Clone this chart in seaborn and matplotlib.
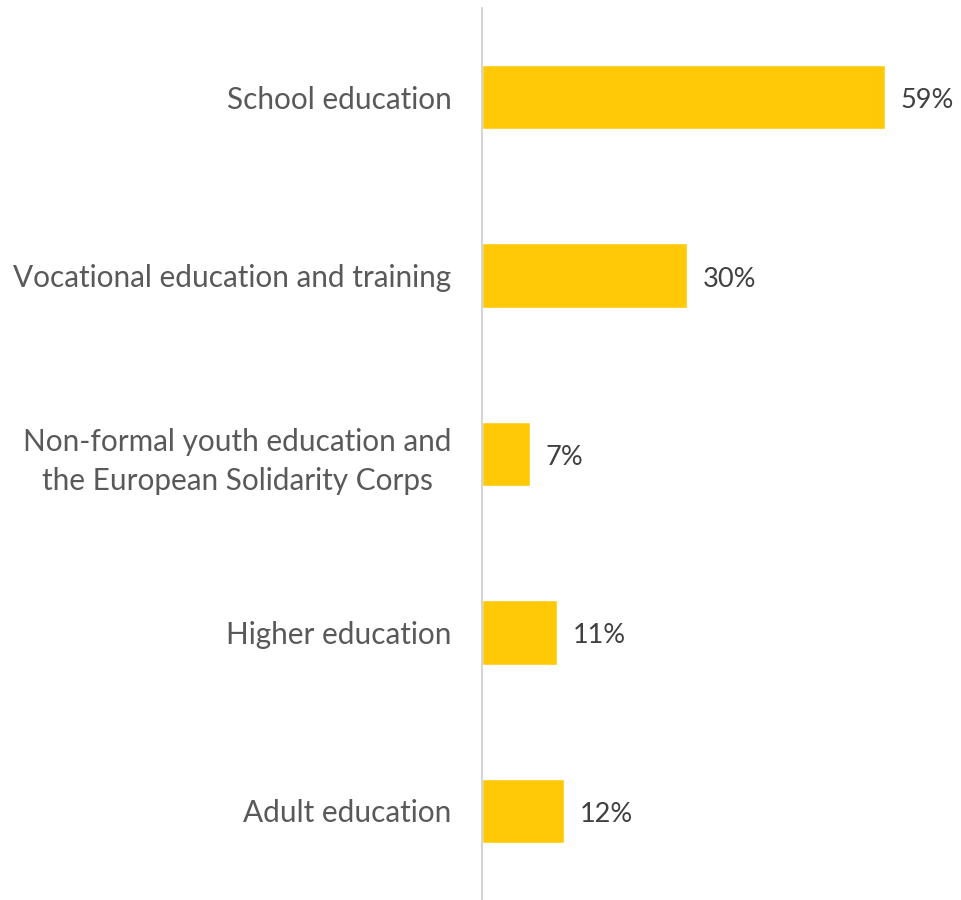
import matplotlib
matplotlib.use("Agg")
import matplotlib.pyplot as plt
import seaborn as sns
import pandas as pd

categories = [
    "School education",
    "Vocational education and training",
    "Non-formal youth education and\nthe European Solidarity Corps",
    "Higher education",
    "Adult education",
]
values = [59, 30, 7, 11, 12]
value_labels = ["59%", "30%", "7%", "11%", "12%"]

df = pd.DataFrame({"category": categories, "value": values})

sns.set_style("white")
plt.rcParams["font.family"] = ["Lato", "DejaVu Sans"]

fig = plt.figure(figsize=(9.61, 9.0), dpi=100)
ax = fig.add_axes([482 / 961, 0.0, 1 - 482 / 961, 892 / 900])

sns.barplot(data=df, x="value", y="category", color="#FFC908", saturation=1,
            width=0.36, ax=ax)

for i, (v, lab) in enumerate(zip(values, value_labels)):
    ax.text(v + 2.3, i + 0.02, lab, va="center", ha="left", fontsize=19.5, color="#404040")

ax.set_xlim(0, 70.2)
ax.set_ylim(4.5, -0.5)
ax.set_xlabel("")
ax.set_ylabel("")
ax.set_xticks([])
ax.tick_params(axis="y", length=0, pad=22, labelsize=21.4, labelcolor="#595959")
for lab in ax.get_yticklabels():
    lab.set_multialignment("center")
    lab.set_linespacing(1.45)
for s in ["top", "right", "bottom"]:
    ax.spines[s].set_visible(False)
ax.spines["left"].set_color("#D0D0D0")
ax.spines["left"].set_linewidth(1.3)

fig.savefig("out.png", dpi=100, facecolor="white")
